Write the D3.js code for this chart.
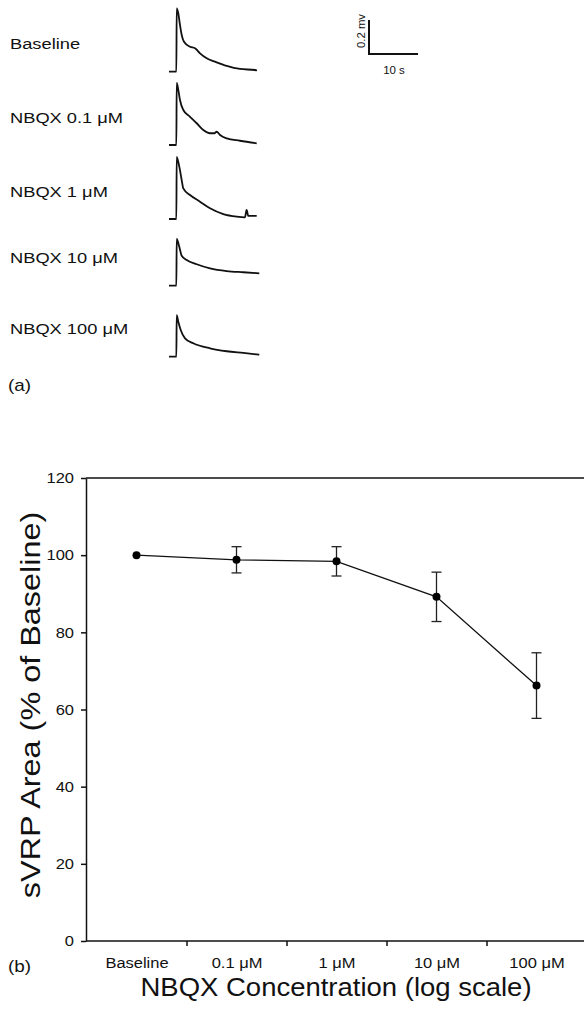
<!DOCTYPE html>
<html>
<head>
<meta charset="utf-8">
<script src="https://cdn.jsdelivr.net/npm/d3@7"></script>
<style>
  body { margin: 0; background: #fff; }
  svg { display: block; font-family: "Liberation Sans", Arial, sans-serif; }
</style>
</head>
<body>
<svg width="584" height="1011"></svg>
<script>
// panel (a): traces, time in s, value in mV above baseline
const traceLabels = ['Baseline', 'NBQX 0.1 \u03bcM', 'NBQX 1 \u03bcM', 'NBQX 10 \u03bcM', 'NBQX 100 \u03bcM']

const t1 = [0, 1.5, 1.57, 1.9, 2.24, 2.59, 3.06, 4.29, 5.31, 6.33, 7.69, 9.39, 11.78, 14.49, 17.55, 17.96]
const v1 = [0, 0, 0.373, 0.343, 0.275, 0.216, 0.176, 0.147, 0.138, 0.108, 0.079, 0.059, 0.034, 0.016, 0.01, 0.007]

const t2 = [0, 1.5, 1.57, 1.9, 2.24, 2.92, 4.29, 5.65, 7.0, 8.37, 9.24, 9.73, 10.41, 11.78, 14.49, 17.9]
const v2 = [0, 0, 0.366, 0.324, 0.265, 0.206, 0.166, 0.128, 0.088, 0.069, 0.069, 0.078, 0.059, 0.039, 0.025, 0.01]

const t3 = [0, 1.5, 1.57, 2.1, 2.59, 2.92, 4.29, 6.33, 8.37, 11.08, 13.82, 15.5, 15.84, 16.18, 17.9]
const v3 = [0, 0, 0.366, 0.308, 0.229, 0.18, 0.141, 0.102, 0.063, 0.029, 0.014, 0.01, 0.053, 0.018, 0.018]

const t4 = [0, 1.5, 1.57, 2.1, 2.59, 3.61, 5.65, 8.37, 11.78, 15.16, 18.43]
const v4 = [0, 0, 0.275, 0.229, 0.176, 0.151, 0.126, 0.102, 0.086, 0.079, 0.073]

const t5 = [0, 1.5, 1.57, 1.9, 2.39, 3.27, 4.96, 8.37, 11.78, 15.16, 18.43]
const v5 = [0, 0, 0.245, 0.206, 0.157, 0.108, 0.079, 0.049, 0.032, 0.022, 0.012]

const traceT = [t1, t2, t3, t4, t5]
const traceV = [v1, v2, v3, v4, v5]

// panel (b): mean and error
const categories = ['Baseline', '0.1 \u03bcM', '1 \u03bcM', '10 \u03bcM', '100 \u03bcM']
const means = [100, 98.8, 98.4, 89.2, 66.2]
const errs = [0, 3.4, 3.8, 6.4, 8.5]
const yTicks = [0, 20, 40, 60, 80, 100, 120]

const svg = d3.select('svg')

// glyphs in the picture are a little wide, so text gets a horizontal stretch
function label(g, x, y, str, size, sx, anchor, rot) {
    return g.append('text')
        .attr('transform', `translate(${x},${y})` + (rot ? ` rotate(${rot})` : '') + ` scale(${sx},1)`)
        .attr('font-size', size)
        .attr('text-anchor', anchor || 'start')
        .attr('fill', '#111')
        .text(str)
}

// ---- panel (a)
const rowBase = [71.7, 145, 219, 285.7, 356.7]
const tScale = d3.scaleLinear().domain([0, 10]).range([169, 218])
const vScale = d3.scaleLinear().domain([0, 0.2]).range([0, 34])

const traces = svg.append('g')
traceV.forEach((vals, i) => {
    const line = d3.line()
        .x((d, j) => tScale(traceT[i][j]))
        .y(d => rowBase[i] - vScale(d))
        .curve(d3.curveMonotoneX)
    traces.append('path')
        .attr('d', line(vals))
        .attr('fill', 'none')
        .attr('stroke', '#111')
        .attr('stroke-width', 1.8)
        .attr('stroke-linejoin', 'round')
    label(traces, 10, rowBase[i] - 22.5, traceLabels[i], 15.5, 1.18)
})

// scale bar
const sbX = 369, sbY = 54
svg.append('path')
    .attr('d', `M${sbX},${sbY - vScale(0.2)}V${sbY}H${sbX + tScale(10) - tScale(0)}`)
    .attr('fill', 'none')
    .attr('stroke', '#111')
    .attr('stroke-width', 2)
label(svg, 365, 31, '0.2 mv', 11, 1.03, 'middle', -90)
label(svg, 394, 74, '10 s', 11.5, 1.0, 'middle')
label(svg, 8, 391, '(a)', 16, 1.18)

// ---- panel (b)
const x = d3.scaleBand().domain(categories).range([87, 587])
const y = d3.scaleLinear().domain([0, 120]).range([941, 478])

const yAxis = svg.append('g')
    .attr('transform', 'translate(86,0)')
    .call(d3.axisLeft(y).tickValues(yTicks).tickSize(5).tickPadding(7).tickSizeOuter(0))
yAxis.selectAll('text')
    .attr('font-size', 15)
    .attr('font-family', null)
    .attr('fill', '#111')
    .attr('transform', 'scale(1.1,1)')
    .attr('x', -12 / 1.1)

const xAxis = svg.append('g')
    .attr('transform', 'translate(0,941)')
    .call(d3.axisBottom(x).tickSize(0).tickPadding(16).tickSizeOuter(0))
xAxis.selectAll('text')
    .attr('font-size', 15)
    .attr('font-family', null)
    .attr('fill', '#111')
    .attr('transform', 'scale(1.1,1)')
xAxis.select('.domain').attr('d', 'M86,0H584')

// ticks sit on the band boundaries
svg.append('g').selectAll('line')
    .data(categories.slice(0, 4))
    .join('line')
    .attr('x1', d => x(d) + x.bandwidth())
    .attr('x2', d => x(d) + x.bandwidth())
    .attr('y1', 941)
    .attr('y2', 946)
    .attr('stroke', '#111')
    .attr('stroke-width', 1.5)

svg.selectAll('.domain, .tick line').attr('stroke', '#111').attr('stroke-width', 1.5)

// top frame
svg.append('line')
    .attr('x1', 86).attr('x2', 584)
    .attr('y1', y(120)).attr('y2', y(120))
    .attr('stroke', '#111').attr('stroke-width', 1.5)

const cx = d => x(d) + x.bandwidth() / 2 - 0.5

// error bars
const eb = svg.append('g').attr('stroke', '#222').attr('stroke-width', 1.3)
categories.forEach((c, i) => {
    if (!errs[i]) return
    const top = y(means[i] + errs[i]), bot = y(means[i] - errs[i])
    eb.append('line').attr('x1', cx(c)).attr('x2', cx(c)).attr('y1', top).attr('y2', bot)
    eb.append('line').attr('x1', cx(c) - 5).attr('x2', cx(c) + 5).attr('y1', top).attr('y2', top)
    eb.append('line').attr('x1', cx(c) - 5).attr('x2', cx(c) + 5).attr('y1', bot).attr('y2', bot)
})

svg.append('path')
    .datum(means)
    .attr('d', d3.line().x((d, i) => cx(categories[i])).y(d => y(d)))
    .attr('fill', 'none')
    .attr('stroke', '#111')
    .attr('stroke-width', 1.3)

svg.append('g').selectAll('circle')
    .data(means)
    .join('circle')
    .attr('cx', (d, i) => cx(categories[i]))
    .attr('cy', d => y(d))
    .attr('r', 4)
    .attr('fill', '#000')

label(svg, 40, 705, 'sVRP Area (% of Baseline)', 27, 1.2, 'middle', -90)
label(svg, 336, 996, 'NBQX Concentration (log scale)', 25, 1.1, 'middle')
label(svg, 8, 972, '(b)', 16, 1.18)
</script>
</body>
</html>
